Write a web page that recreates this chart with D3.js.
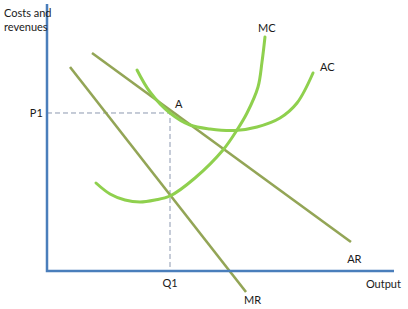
<!DOCTYPE html>
<html><head><meta charset="utf-8">
<script src="https://cdn.jsdelivr.net/npm/d3@7"></script>
<style>body{margin:0;background:#fff}svg text{font-family:Lato,"Open Sans",sans-serif;font-size:11px;fill:#1a1a1a}</style>
</head><body><svg id="c" width="408" height="309"></svg>
<script>
// Data in chart units (output 0..100, costs 0..100)
const arLine = [[12.97, 81.95], [87.6, 10.9]];
const mrLine = [[6.63, 76.7], [57.35, -7.9]];
const mcCurve = [[14.12,33.08],[18.16,28.95],[22.48,26.69],[26.8,25.94],[31.12,26.69],[35.45,28.2],[42.65,34.96],[50.72,45.49],[54.76,53.01],[57.64,59.4],[60.81,69.17],[61.96,78.57],[62.82,87.97]];
const acCurve = [[25.94,75.56],[29.68,67.29],[35.45,59.4],[41.21,54.89],[46.97,53.38],[54.18,52.82],[60.52,54.14],[67.15,57.52],[72.05,63.16],[76.66,74.44]];
const p1 = 59.4, q1 = 35.45;
const labels = [
  {t:"Costs and", x:-12.4, y:95.5, a:"start"},
  {t:"revenues", x:-12.4, y:90.2, a:"start"},
  {t:"P1", x:-1.2, y:57.9, a:"end"},
  {t:"A", x:36.9, y:61.3, a:"start"},
  {t:"MC", x:60.8, y:89.8, a:"start"},
  {t:"AC", x:78.7, y:75.2, a:"start"},
  {t:"AR", x:86.5, y:3.0, a:"start"},
  {t:"Output", x:91.9, y:-6.4, a:"start"},
  {t:"MR", x:56.8, y:-12.4, a:"start"},
  {t:"Q1", x:35.45, y:-6.0, a:"middle"}
];

const svg = d3.select("#c");
const x = d3.scaleLinear().domain([0,100]).range([47,394]);
const y = d3.scaleLinear().domain([0,100]).range([271,5]);
const line = d3.line().x(d=>x(d[0])).y(d=>y(d[1]));
const curve = d3.line().x(d=>x(d[0])).y(d=>y(d[1])).curve(d3.curveCatmullRom.alpha(0.5));

// dashed guides
svg.append("path").attr("d", line([[0,p1],[q1,p1],[q1,0]]))
  .attr("fill","none").attr("stroke","#8c98b0").attr("stroke-width",1).attr("stroke-dasharray","5,3");

// AR, MR
[arLine, mrLine].forEach(d=>{
  svg.append("path").attr("d", line(d)).attr("fill","none")
    .attr("stroke","#93a556").attr("stroke-width",2.6);
});
// MC, AC
[acCurve, mcCurve].forEach(d=>{
  svg.append("path").attr("d", curve(d)).attr("fill","none")
    .attr("stroke","#8fd04e").attr("stroke-width",3).attr("stroke-linecap","round");
});

// axes
svg.append("path").attr("d", line([[0,100.4],[0,0],[100,0]]))
  .attr("fill","none").attr("stroke","#4a7ebb").attr("stroke-width",2.5);

svg.selectAll("text.l").data(labels).join("text").attr("class","l")
  .attr("x",d=>x(d.x)).attr("y",d=>y(d.y)).attr("text-anchor",d=>d.a).text(d=>d.t);
</script></body></html>
